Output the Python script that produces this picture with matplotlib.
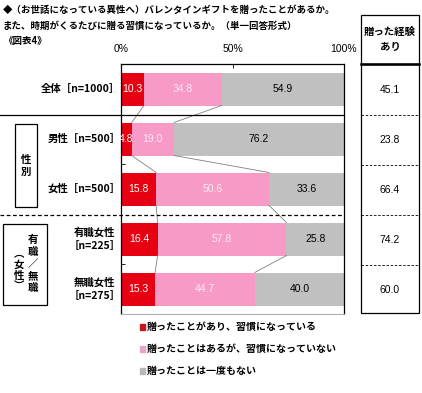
import matplotlib
matplotlib.use("Agg")
import matplotlib.pyplot as plt
from matplotlib.lines import Line2D
from matplotlib.patches import Rectangle

plt.rcParams["font.family"] = ["Noto Sans CJK JP", "DejaVu Sans"]

# data
categories = ["全体［n=1000］", "男性［n=500］", "女性［n=500］",
              "有職女性\n［n=225］", "無職女性\n［n=275］"]
habit = [10.3, 4.8, 15.8, 16.4, 15.3]
not_habit = [34.8, 19.0, 50.6, 57.8, 44.7]
never = [54.9, 76.2, 33.6, 25.8, 40.0]
experienced = [45.1, 23.8, 66.4, 74.2, 60.0]
legend_labels = ["贈ったことがあり、習慣になっている",
                 "贈ったことはあるが、習慣になっていない",
                 "贈ったことは一度もない"]

W, H = 422, 393
fig = plt.figure(figsize=(W / 100, H / 100), dpi=100)


def fx(x):
    return x / W


def fy(y):
    return 1 - y / H


def hline(x0, x1, y, **kw):
    fig.add_artist(Line2D([fx(x0), fx(x1)], [fy(y), fy(y)], transform=fig.transFigure, **kw))


def box(x0, y0, x1, y1, lw=0.9):
    fig.add_artist(Rectangle((fx(x0), fy(y1)), fx(x1) - fx(x0), fy(y0) - fy(y1),
                             transform=fig.transFigure, fill=False, ec="black", lw=lw))


ax = fig.add_axes([fx(121), fy(314), fx(344) - fx(121), fy(64) - fy(314)])

red_c = "#e60012"
pink_c = "#f79ac6"
gray_c = "#c0c0c0"
h = 0.66
ypos = list(range(len(categories)))

ax.barh(ypos, habit, height=h, color=red_c)
left2 = habit
ax.barh(ypos, not_habit, height=h, left=left2, color=pink_c)
left3 = [a + b for a, b in zip(habit, not_habit)]
ax.barh(ypos, never, height=h, left=left3, color=gray_c)

for i in ypos:
    ax.text(habit[i] / 2, i, f"{habit[i]:.1f}", ha="center", va="center",
            color="white", fontsize=7.5, family="Liberation Sans")
    ax.text(left2[i] + not_habit[i] / 2, i, f"{not_habit[i]:.1f}", ha="center", va="center",
            color="#fdeaf3", fontsize=7.5, family="Liberation Sans")
    ax.text(left3[i] + never[i] / 2, i, f"{never[i]:.1f}", ha="center", va="center",
            color="black", fontsize=7.5, family="Liberation Sans")

# series lines between bars
for i in range(len(categories) - 1):
    for c in (habit, left3):
        ax.plot([c[i], c[i + 1]], [i + h / 2, i + 1 - h / 2], color="#808080", lw=0.6)

ax.set_xlim(0, 100)
ax.set_ylim(4.5, -0.5)
ax.set_xticks([0, 50, 100])
ax.set_xticklabels(["0%", "50%", "100%"], family="Liberation Sans", fontsize=7.5)
ax.xaxis.tick_top()
ax.tick_params(axis="x", direction="in", length=3, pad=7, width=0.6)
ax.set_yticks([1.5, 3.5])
ax.set_yticklabels([])
ax.tick_params(axis="y", direction="in", length=3, width=0.6)
for s in ("top", "left", "right"):
    ax.spines[s].set_linewidth(0.9)
ax.spines["bottom"].set_color("#b0b0b0")

for i, lab in enumerate(categories):
    ax.text(-0.3, i, lab, ha="right", va="center", fontsize=7.5, fontweight="bold",
            linespacing=1.35, multialignment="center", clip_on=False)

# title
fig.text(fx(3), fy(10), "◆（お世話になっている異性へ）バレンタインギフトを贈ったことがあるか。",
         fontsize=6.8, fontweight="bold", va="center")
fig.text(fx(3), fy(26), "また、時期がくるたびに贈る習慣になっているか。（単一回答形式）",
         fontsize=6.8, fontweight="bold", va="center")
fig.text(fx(3), fy(41), "《図表4》", fontsize=6.8, fontweight="bold", va="center")

# group separators
hline(0, 344, 115, color="black", lw=0.9)
hline(0, 344, 215, color="black", lw=0.9, ls=(0, (3, 2)))

# group boxes
box(15, 124, 37, 207)
fig.text(fx(26), fy(160), "性", fontsize=7.5, fontweight="bold", ha="center", va="center")
fig.text(fx(26), fy(172), "別", fontsize=7.5, fontweight="bold", ha="center", va="center")
box(3, 224, 47, 305)
for j, ch in enumerate(["有", "職", "／", "無", "職"]):
    fig.text(fx(33), fy(240 + j * 12), ch, fontsize=7.5, fontweight="bold",
             ha="center", va="center")
for j, ch in enumerate(["︵", "女", "性", "︶"]):
    fig.text(fx(19), fy(254 + j * 11), ch, fontsize=7.5, fontweight="bold",
             ha="center", va="center")

# right-hand table
box(361, 15, 419, 64)
fig.text(fx(390), fy(32), "贈った経験", fontsize=7.5, fontweight="bold", ha="center", va="center")
fig.text(fx(390), fy(47), "あり", fontsize=7.5, fontweight="bold", ha="center", va="center")
box(361, 64, 419, 313)
hline(361, 419, 64, color="black", lw=1.8)
for k in range(1, len(categories)):
    hline(361, 419, 65 + 50 * k, color="black", lw=0.6, ls=(0, (3, 2)))
for i, v in enumerate(experienced):
    fig.text(fx(390), fy(90 + 50 * i), f"{v:.1f}", fontsize=7.5, ha="center", va="center",
             family="Liberation Sans")

# legend
leg_colors = ["#c8161d", "#e8a5c8", "#b8b8b8"]
for k, (lab, c) in enumerate(zip(legend_labels, leg_colors)):
    y = 327 + 22 * k
    fig.add_artist(Rectangle((fx(140), fy(y + 3)), fx(5), fy(0) - fy(6),
                             transform=fig.transFigure, color=c))
    fig.text(fx(147), fy(y), lab, fontsize=7.2, fontweight="bold", va="center")

fig.savefig("out.png", dpi=100)
